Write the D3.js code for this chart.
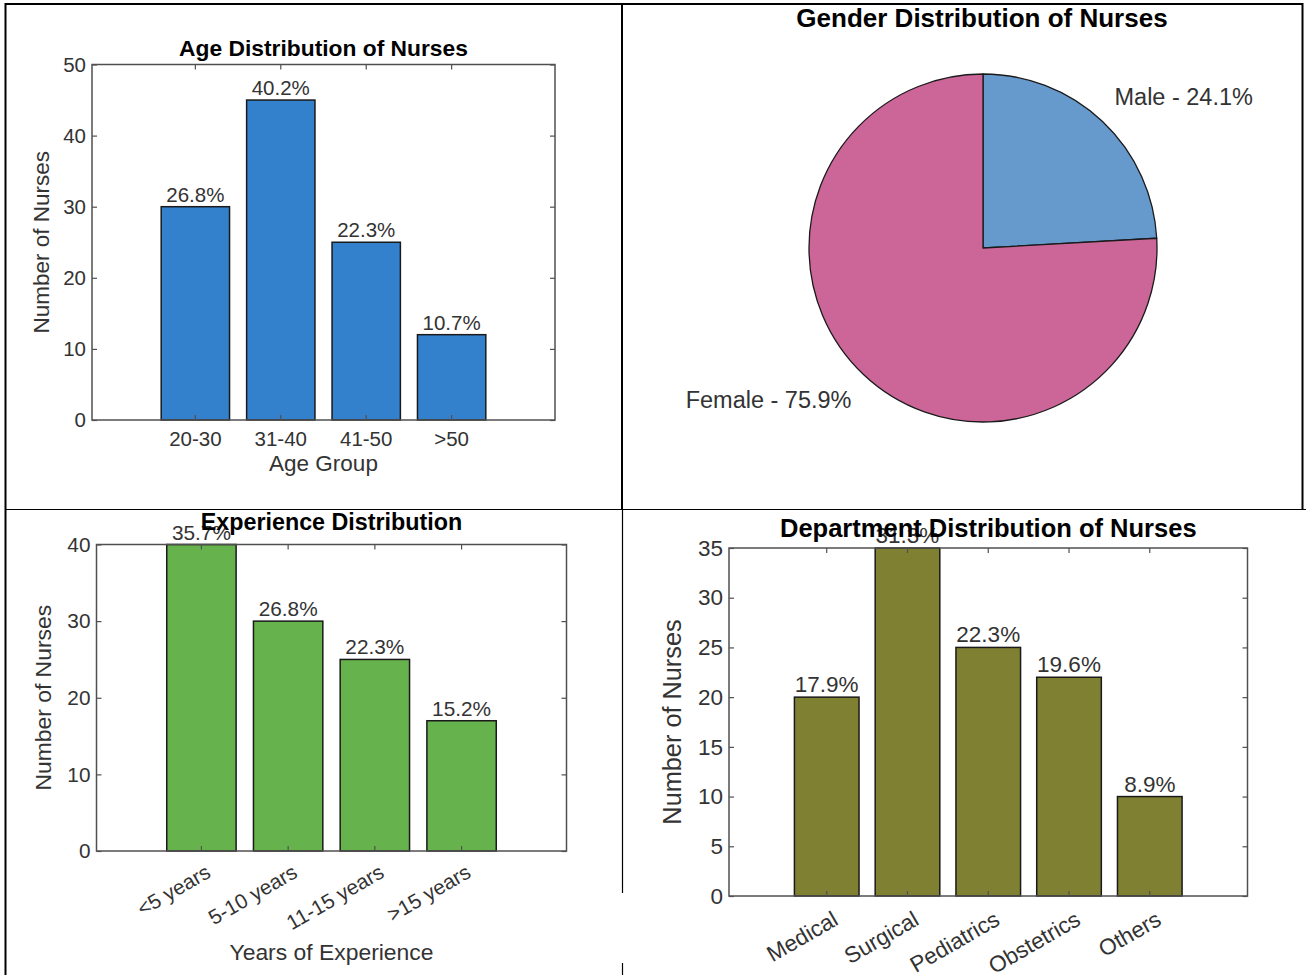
<!DOCTYPE html>
<html>
<head>
<meta charset="utf-8">
<script src="https://cdn.jsdelivr.net/npm/d3@7"></script>
<style>
  html, body { margin: 0; padding: 0; background: #fff; }
  svg { display: block; }
  text { font-family: "Liberation Sans", Arial, Helvetica, sans-serif; }
</style>
</head>
<body>
<svg id="chart" width="1306" height="975"></svg>
<script>
// ---------------- DATA ----------------
const ageCategories = ["20-30", "31-40", "41-50", ">50"];
const ageCounts = [30, 45, 25, 12];
const ageTicks = [0, 10, 20, 30, 40, 50];

const genderCategories = ["Male", "Female"];
const genderCounts = [27, 85];

const expCategories = ["<5 years", "5-10 years", "11-15 years", ">15 years"];
const expCounts = [40, 30, 25, 17];
const expTicks = [0, 10, 20, 30, 40];

const deptCategories = ["Medical", "Surgical", "Pediatrics", "Obstetrics", "Others"];
const deptCounts = [20, 35, 25, 22, 10];
const deptTicks = [0, 5, 10, 15, 20, 25, 30, 35];

// ---------------- DRAW ----------------
const svg = d3.select("#chart");
svg.append("rect").attr("width", 1306).attr("height", 975).attr("fill", "#fff");

const TEXT = "#333";
const AXIS = "#505050";
const pct = (v, t) => (v / t * 100).toFixed(1) + "%";

function barChart(o) {
  const g = svg.append("g");
  const x = d3.scaleBand().domain(o.cats).range([o.left, o.right])
    .paddingInner(0.2).paddingOuter(0.81);
  const y = d3.scaleLinear().domain([0, d3.max(o.ticks)]).range([o.bottom, o.top]);
  const total = d3.sum(o.vals);
  const data = o.cats.map((c, i) => ({ c, v: o.vals[i] }));

  g.selectAll("rect.bar").data(data).join("rect")
    .attr("class", "bar")
    .attr("x", d => x(d.c)).attr("y", d => y(d.v))
    .attr("width", x.bandwidth()).attr("height", d => y(0) - y(d.v))
    .attr("fill", o.color).attr("stroke", "#1a1a1a").attr("stroke-width", 1.5);

  g.selectAll("text.val").data(data).join("text")
    .attr("class", "val")
    .attr("x", d => x(d.c) + x.bandwidth() / 2)
    .attr("y", d => y(d.v) - 5)
    .attr("text-anchor", "middle")
    .attr("font-size", o.fs + "px").attr("fill", TEXT)
    .text(d => pct(d.v, total));

  const styleAxis = sel => {
    sel.select(".domain").remove();
    sel.selectAll(".tick line").attr("stroke", AXIS).attr("stroke-width", 1.2);
    sel.selectAll(".tick text").attr("fill", TEXT).attr("font-size", o.fs + "px")
      .attr("font-family", '"Liberation Sans", Arial, Helvetica, sans-serif');
  };

  g.append("g").attr("transform", `translate(${o.left},0)`)
    .call(d3.axisLeft(y).tickValues(o.ticks).tickSize(-5).tickPadding(6).tickFormat(d3.format("d")))
    .call(styleAxis);
  g.append("g").attr("transform", `translate(${o.right},0)`)
    .call(d3.axisRight(y).tickValues(o.ticks).tickSize(-5).tickFormat(""))
    .call(styleAxis);
  g.append("g").attr("transform", `translate(0,${o.top})`)
    .call(d3.axisTop(x).tickSize(-5).tickFormat(""))
    .call(styleAxis);
  const bx = g.append("g").attr("transform", `translate(0,${o.bottom})`)
    .call(d3.axisBottom(x).tickSize(-5).tickPadding(11))
    .call(styleAxis);
  if (o.rotate) {
    bx.selectAll(".tick text")
      .attr("x", 0).attr("y", 0).attr("dy", "0.35em")
      .attr("text-anchor", "end")
      .attr("transform", `translate(${o.rotDx},${o.rotDy}) rotate(-30)`);
  }

  g.append("rect")
    .attr("x", o.left).attr("y", o.top)
    .attr("width", o.right - o.left).attr("height", o.bottom - o.top)
    .attr("fill", "none").attr("stroke", AXIS).attr("stroke-width", 1.5);

  if (o.xLabel) {
    g.append("text").attr("x", (o.left + o.right) / 2).attr("y", o.xLabelY)
      .attr("text-anchor", "middle").attr("font-size", o.als + "px").attr("fill", TEXT)
      .text(o.xLabel);
  }
  g.append("text")
    .attr("transform", `translate(${o.yLabelX},${(o.top + o.bottom) / 2}) rotate(-90)`)
    .attr("text-anchor", "middle").attr("font-size", o.als + "px").attr("fill", TEXT)
    .text("Number of Nurses");

  g.append("text").attr("x", o.titleX).attr("y", o.titleY)
    .attr("text-anchor", "middle").attr("font-size", o.ts + "px")
    .attr("font-weight", "bold").attr("fill", "#000")
    .text(o.title);
}

// Age distribution
barChart({
  cats: ageCategories, vals: ageCounts, ticks: ageTicks,
  left: 92, right: 555, top: 64.5, bottom: 420,
  color: "#3380CC", fs: 20.5, als: 22.5, ts: 22.8,
  title: "Age Distribution of Nurses", titleX: 323.5, titleY: 56,
  xLabel: "Age Group", xLabelY: 470.5, yLabelX: 49, rotate: false
});

// Experience distribution
barChart({
  cats: expCategories, vals: expCounts, ticks: expTicks,
  left: 96.5, right: 566.5, top: 544.5, bottom: 851,
  color: "#66B24D", fs: 20.8, als: 22.9, ts: 23.3,
  title: "Experience Distribution", titleX: 331.5, titleY: 530,
  xLabel: "Years of Experience", xLabelY: 960, yLabelX: 51, rotate: true, rotDx: 7, rotDy: 19
});

// Department distribution
barChart({
  cats: deptCategories, vals: deptCounts, ticks: deptTicks,
  left: 729, right: 1247.5, top: 548, bottom: 896,
  color: "#808033", fs: 22.5, als: 25.3, ts: 25.5,
  title: "Department Distribution of Nurses", titleX: 988.3, titleY: 536.5,
  xLabel: null, yLabelX: 681, rotate: true, rotDx: 9, rotDy: 21
});

// Gender pie
(function () {
  const cx = 983, cy = 248, r = 174;
  const colors = ["#6699CC", "#CC6699"];
  const total = d3.sum(genderCounts);
  const arcs = d3.pie().sort(null)(genderCounts);
  const arc = d3.arc().innerRadius(0).outerRadius(r);
  const lab = d3.arc().innerRadius(r * 1.1).outerRadius(r * 1.1);
  const g = svg.append("g").attr("transform", `translate(${cx},${cy})`);
  g.selectAll("path").data(arcs).join("path")
    .attr("d", arc).attr("fill", (d, i) => colors[i])
    .attr("stroke", "#1a1a1a").attr("stroke-width", 1.3).attr("stroke-linejoin", "round");
  g.selectAll("text").data(arcs).join("text")
    .each(function (d, i) {
      const [px, py] = lab.centroid(d);
      d3.select(this).attr("x", px).attr("y", py)
        .attr("text-anchor", px >= 0 ? "start" : "end")
        .attr("dy", py < 0 ? "-0.17em" : "0.91em");
    })
    .attr("font-size", "23.5px").attr("fill", TEXT)
    .text((d, i) => genderCategories[i] + " - " + pct(genderCounts[i], total));
  svg.append("text").attr("x", 982).attr("y", 27)
    .attr("text-anchor", "middle").attr("font-size", "26px")
    .attr("font-weight", "bold").attr("fill", "#000")
    .text("Gender Distribution of Nurses");
})();

// Table-like cell borders
const borders = svg.append("g").attr("stroke", "#000").attr("fill", "none");
borders.append("line").attr("x1", 5).attr("x2", 1303).attr("y1", 4).attr("y2", 4).attr("stroke-width", 2);
borders.append("line").attr("x1", 5.5).attr("x2", 5.5).attr("y1", 3).attr("y2", 975).attr("stroke-width", 2);
borders.append("line").attr("x1", 1302.5).attr("x2", 1302.5).attr("y1", 3).attr("y2", 509).attr("stroke-width", 2);
borders.append("line").attr("x1", 622).attr("x2", 622).attr("y1", 3).attr("y2", 509).attr("stroke-width", 2);
borders.append("line").attr("x1", 622.5).attr("x2", 622.5).attr("y1", 509).attr("y2", 893).attr("stroke-width", 1.2);
borders.append("line").attr("x1", 622.5).attr("x2", 622.5).attr("y1", 963).attr("y2", 975).attr("stroke-width", 1.2);
borders.append("line").attr("x1", 5).attr("x2", 1306).attr("y1", 509.5).attr("y2", 509.5).attr("stroke-width", 1.2);
</script>
</body>
</html>
